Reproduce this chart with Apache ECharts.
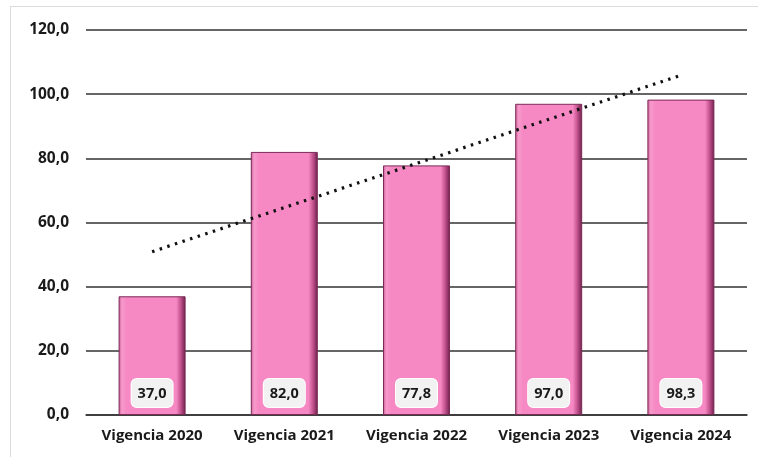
<!DOCTYPE html>
<html><head><meta charset="utf-8">
<script src="https://cdn.jsdelivr.net/npm/echarts@6/dist/echarts.min.js"></script>
<style>html,body{margin:0;padding:0;background:#fff}#c{width:758px;height:457px}</style>
</head><body><div id="c"></div>
<script>
var categories = ['Vigencia 2020','Vigencia 2021','Vigencia 2022','Vigencia 2023','Vigencia 2024'];
var values = [37.0, 82.0, 77.8, 97.0, 98.3];
var trendEnds = [50.9, null, null, null, 105.9];
var yTicks = [0, 20, 40, 60, 80, 100, 120];

function fmt(v){ return v.toFixed(1).replace('.', ','); }

var chart = echarts.init(document.getElementById('c'));
var font = '"Open Sans", "Noto Sans", sans-serif';
chart.setOption({
  animation:false,
  backgroundColor:'#fff',
  graphic:[
    {type:'line', shape:{x1:10,y1:6.5,x2:758,y2:6.5}, style:{stroke:'#dcdcdc',lineWidth:1}},
    {type:'line', shape:{x1:10.5,y1:6,x2:10.5,y2:457}, style:{stroke:'#dcdcdc',lineWidth:1}}
  ],
  grid:{left:86,right:11,top:30,bottom:42,containLabel:false},
  xAxis:{
    type:'category', data:categories,
    axisLine:{show:true,lineStyle:{color:'#333',width:1.5}},
    axisTick:{show:false},
    axisLabel:{interval:0,hideOverlap:false,color:'#1a1a1a',fontFamily:font,fontWeight:'bold',fontSize:15,margin:13}
  },
  yAxis:{
    type:'value', min:yTicks[0], max:yTicks[yTicks.length-1], interval:20,
    axisLine:{show:false}, axisTick:{show:false},
    splitLine:{lineStyle:{color:'#333',width:1.5}},
    axisLabel:{color:'#1a1a1a',fontFamily:font,fontWeight:'bold',fontSize:15.5,margin:17,formatter:function(v){return fmt(v);}}
  },
  series:[
    {
      type:'bar', data:values, barWidth:67,
      itemStyle:{
        color:new echarts.graphic.LinearGradient(0,0,1,0,[
          {offset:0,color:'#c85b95'},
          {offset:0.05,color:'#f79acb'},
          {offset:0.12,color:'#f688c3'},
          {offset:0.86,color:'#f688c3'},
          {offset:0.93,color:'#c0508c'},
          {offset:1,color:'#6a1d47'}
        ]),
        borderColor:'#7b2a57', borderWidth:1
      },
      label:{
        show:true, position:'insideBottom', distance:8,
        formatter:function(p){return fmt(p.value);},
        color:'#1a1a1a', fontFamily:font, fontWeight:'bold', fontSize:14.5,
        backgroundColor:'#f2f2f2', borderColor:'#ffffff', borderWidth:1, borderRadius:5,
        padding:[7,6,6,6]
      },
      z:2
    },
    {
      type:'line', data:trendEnds, connectNulls:true, symbol:'none',
      lineStyle:{color:'#111',width:3.2,type:[2.5,5.5]},
      z:5
    }
  ]
});
</script>
</body></html>
